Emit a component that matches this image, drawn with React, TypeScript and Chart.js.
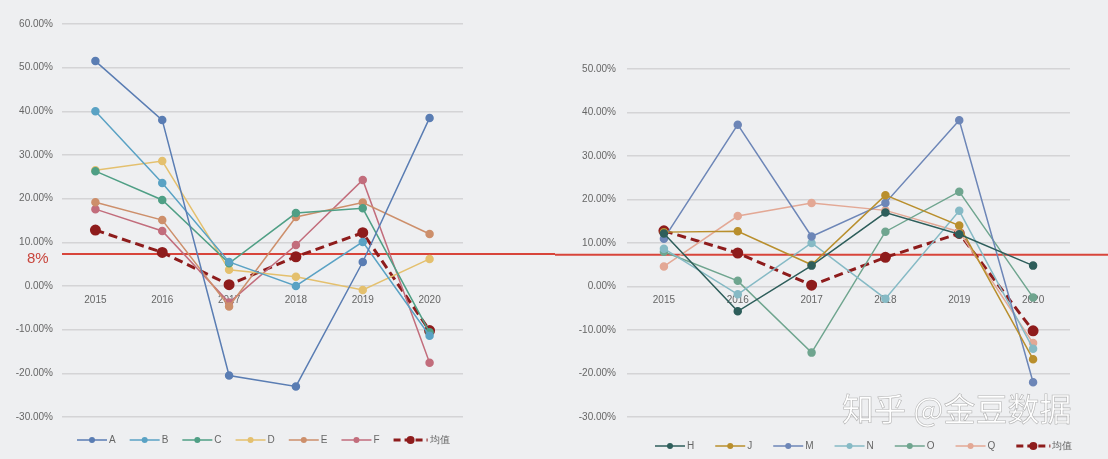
import { useEffect, useRef } from 'react';
import { Chart, registerables } from 'chart.js';
Chart.register(...registerables);

// ---- data ----
const years = ['2015', '2016', '2017', '2018', '2019', '2020'];

const seriesA = [51.5, 38.0, -20.5, -23.0, 5.5, 38.5];
const seriesB = [40.0, 23.6, 5.5, 0.0, 10.1, -11.4];
const seriesC = [26.3, 19.7, 5.2, 16.7, 17.8, -10.6];
const seriesD = [26.5, 28.6, 3.7, 2.1, -0.9, 6.2];
const seriesE = [19.2, 15.1, -4.7, 15.8, 19.1, 11.9];
const seriesF = [17.6, 12.6, -3.8, 9.4, 24.3, -17.6];

const seriesH = [12.2, -5.7, 4.8, 17.0, 12.0, 4.8];
const seriesJ = [12.5, 12.7, 5.0, 21.0, 14.0, -16.7];
const seriesM = [11.0, 37.2, 11.5, 19.2, 38.2, -22.0];
const seriesN = [8.7, -1.8, 10.0, -2.8, 17.4, -14.3];
const seriesO = [8.0, 1.3, -15.2, 12.6, 21.8, -2.5];
const seriesQ = [4.6, 16.2, 19.2, 17.5, 12.6, -13.0];

const average = [12.8, 7.7, 0.3, 6.7, 12.2, -10.2];
const avgLabel = '均值';

const threshold = 7.3;
const thresholdLabel = '8%';

const leftNames = ['A', 'B', 'C', 'D', 'E', 'F'];
const leftValues = [seriesA, seriesB, seriesC, seriesD, seriesE, seriesF];
const leftColors = ['#5a7db3', '#5aa2c4', '#4f9f85', '#e4c06e', '#cd8f6b', '#c26d7c'];

const rightNames = ['H', 'J', 'M', 'N', 'O', 'Q'];
const rightValues = [seriesH, seriesJ, seriesM, seriesN, seriesO, seriesQ];
const rightColors = ['#2e5e5b', '#b98f2d', '#6d86b7', '#86bac5', '#6fa58f', '#e3a895'];

const avgColor = '#8e1c1c';
const FONT = '"Liberation Sans", Arial, sans-serif';

function makeDatasets(names: string[], values: number[][], colors: string[]) {
  const ds: any[] = names.map((n, i) => ({
    label: n,
    data: values[i],
    borderColor: colors[i],
    backgroundColor: colors[i],
    pointBackgroundColor: colors[i],
    pointBorderColor: colors[i],
    borderWidth: 1.5,
    pointRadius: 3.5,
    tension: 0,
  }));
  ds.push({
    label: avgLabel,
    data: average,
    borderColor: avgColor,
    backgroundColor: avgColor,
    pointBackgroundColor: avgColor,
    pointBorderColor: avgColor,
    borderWidth: 3,
    borderDash: [9, 5],
    pointRadius: 4,
    tension: 0,
  });
  return ds;
}

function legendPlugin(startX: number, y: number, gap: number) {
  return {
    id: 'customLegend',
    afterDraw(chart: any) {
      const ctx = chart.ctx as CanvasRenderingContext2D;
      ctx.save();
      ctx.font = `10px ${FONT}`;
      ctx.textBaseline = 'middle';
      let x = startX;
      chart.data.datasets.forEach((ds: any) => {
        const dashed = !!(ds.borderDash && ds.borderDash.length);
        const lw = dashed ? 34 : 30;
        ctx.strokeStyle = ds.borderColor;
        ctx.lineWidth = dashed ? 3 : 1.5;
        ctx.setLineDash(dashed ? [7, 4] : []);
        ctx.beginPath();
        ctx.moveTo(x, y);
        ctx.lineTo(x + lw, y);
        ctx.stroke();
        ctx.setLineDash([]);
        ctx.fillStyle = ds.pointBackgroundColor;
        ctx.beginPath();
        ctx.arc(x + lw / 2, y, dashed ? 4 : 3, 0, Math.PI * 2);
        ctx.fill();
        ctx.fillStyle = '#666';
        ctx.textAlign = 'left';
        ctx.fillText(ds.label, x + lw + 2, y);
        x += lw + 2 + ctx.measureText(ds.label).width + gap;
      });
      ctx.restore();
    },
  };
}

function thresholdPlugin(fromArea: boolean, showLabel: boolean) {
  return {
    id: 'thresholdLine',
    beforeDatasetsDraw(chart: any) {
      const ctx = chart.ctx as CanvasRenderingContext2D;
      const yPix = chart.scales.y.getPixelForValue(threshold);
      const x0 = fromArea ? chart.chartArea.left : 0;
      ctx.save();
      ctx.strokeStyle = '#d8453b';
      ctx.lineWidth = 2;
      ctx.beginPath();
      ctx.moveTo(x0, yPix);
      ctx.lineTo(chart.width, yPix);
      ctx.stroke();
      if (showLabel) {
        ctx.fillStyle = '#c8453c';
        ctx.font = `15px ${FONT}`;
        ctx.textAlign = 'left';
        ctx.textBaseline = 'middle';
        ctx.fillText(thresholdLabel, 27, yPix + 5);
      }
      ctx.restore();
    },
  };
}

function buildConfig(opts: {
  names: string[];
  values: number[][];
  colors: string[];
  yMax: number;
  axisWidth: number;
  tickPad: number;
  padTop: number;
  padRight: number;
  legendX: number;
  legendY: number;
  legendGap: number;
  fromArea: boolean;
  showLabel: boolean;
}): any {
  return {
    type: 'line',
    data: { labels: years, datasets: makeDatasets(opts.names, opts.values, opts.colors) },
    options: {
      animation: false,
      responsive: true,
      maintainAspectRatio: false,
      layout: { padding: { top: opts.padTop, right: opts.padRight, bottom: 42, left: 0 } },
      plugins: { legend: { display: false }, tooltip: { enabled: false } },
      scales: {
        x: {
          type: 'category',
          offset: true,
          position: { y: 0 },
          grid: { display: false, drawTicks: false },
          border: { display: false },
          ticks: { color: '#666', font: { family: FONT, size: 10 }, padding: 8, maxRotation: 0 },
        },
        y: {
          min: -30,
          max: opts.yMax,
          grid: { color: '#d4d4d6', lineWidth: 1.5, drawTicks: false },
          border: { display: false },
          afterFit: (s: any) => {
            s.width = opts.axisWidth;
          },
          ticks: {
            stepSize: 10,
            color: '#666',
            padding: opts.tickPad,
            font: { family: FONT, size: 10 },
            callback: (v: any) => Number(v).toFixed(2) + '%',
          },
        },
      },
    },
    plugins: [thresholdPlugin(opts.fromArea, opts.showLabel), legendPlugin(opts.legendX, opts.legendY, opts.legendGap)],
  };
}

export default function App() {
  const leftRef = useRef<HTMLCanvasElement>(null);
  const rightRef = useRef<HTMLCanvasElement>(null);

  useEffect(() => {
    document.body.style.margin = '0';
    document.body.style.background = '#eeeff1';
    const c1 = new Chart(
      leftRef.current!,
      buildConfig({
        names: leftNames,
        values: leftValues,
        colors: leftColors,
        yMax: 60,
        axisWidth: 62,
        tickPad: 9,
        padTop: 24,
        padRight: 92,
        legendX: 77,
        legendY: 440,
        legendGap: 14,
        fromArea: true,
        showLabel: true,
      })
    );
    const c2 = new Chart(
      rightRef.current!,
      buildConfig({
        names: rightNames,
        values: rightValues,
        colors: rightColors,
        yMax: 50,
        axisWidth: 72,
        tickPad: 11,
        padTop: 69,
        padRight: 38,
        legendX: 100,
        legendY: 446,
        legendGap: 21,
        fromArea: false,
        showLabel: false,
      })
    );
    return () => {
      c1.destroy();
      c2.destroy();
    };
  }, []);

  return (
    <div style={{ position: 'relative', width: 1108, height: 459, background: '#eeeff1', overflow: 'hidden' }}>
      <div style={{ position: 'absolute', left: 0, top: 0, width: 555, height: 459 }}>
        <canvas ref={leftRef} />
      </div>
      <div style={{ position: 'absolute', left: 555, top: 0, width: 553, height: 459 }}>
        <canvas ref={rightRef} />
      </div>
      <div
        style={{
          position: 'absolute',
          left: 842,
          top: 384,
          fontFamily: '"Noto Sans CJK SC", sans-serif',
          fontSize: 32,
          color: 'rgba(255,255,255,0.95)',
          WebkitTextStroke: '0.6px rgba(150,150,150,0.7)',
          whiteSpace: 'nowrap',
          pointerEvents: 'none',
        }}
      >
        知乎 @金豆数据
      </div>
    </div>
  );
}
